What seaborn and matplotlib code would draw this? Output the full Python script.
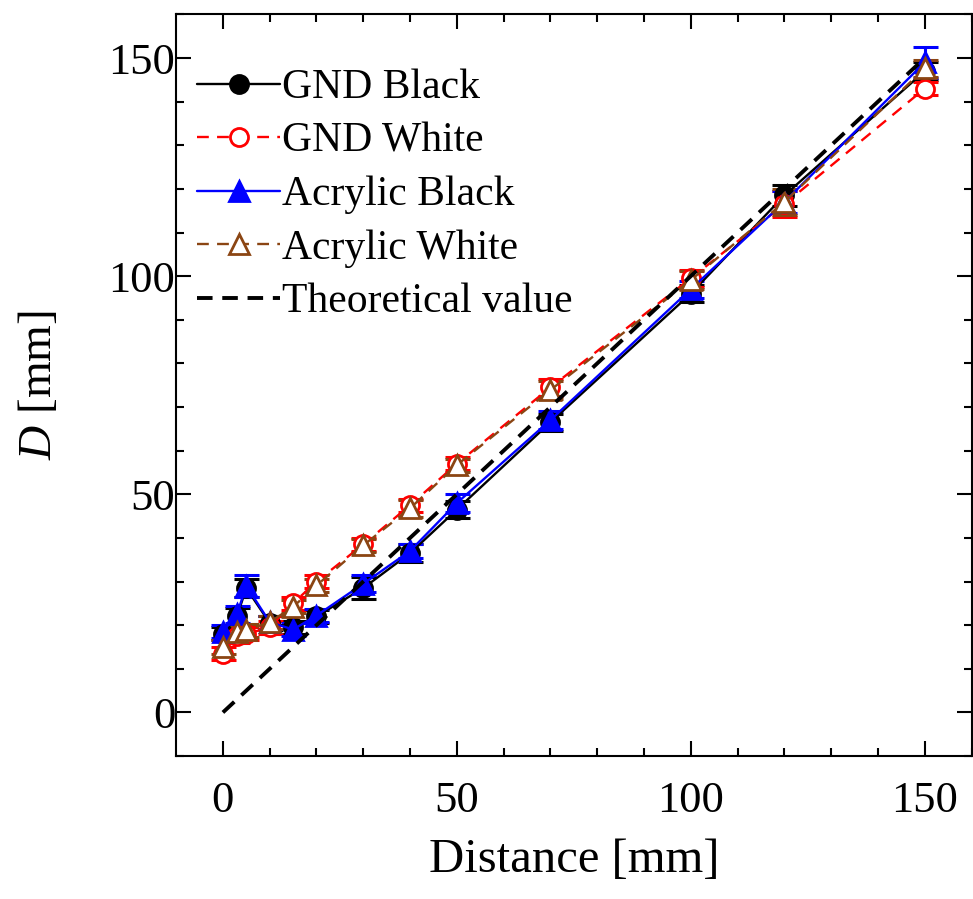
import numpy as np
import pandas as pd
import matplotlib
matplotlib.use("Agg")
import matplotlib.pyplot as plt
import seaborn as sns

# ---- data ----
distance = [0, 3, 5, 10, 15, 20, 30, 40, 50, 70, 100, 120, 150]

gnd_black = [18.0, 22.0, 28.5, 20.5, 19.5, 22.0, 28.5, 36.5, 46.5, 66.5, 96.0, 118.5, 147.0]
gnd_black_err = [1.5, 2.0, 2.0, 1.5, 1.5, 1.5, 2.5, 2.0, 2.0, 2.0, 2.0, 2.5, 2.0]

gnd_white = [13.5, 17.5, 18.0, 19.5, 25.0, 30.0, 38.5, 47.5, 57.0, 74.5, 99.5, 116.5, 143.0]
gnd_white_err = [1.5, 1.5, 1.5, 1.5, 1.5, 1.5, 1.5, 1.5, 1.5, 2.0, 2.0, 3.0, 1.5]

acr_black = [18.5, 22.5, 29.0, 20.7, 19.0, 22.2, 29.5, 37.0, 48.0, 67.0, 97.0, 117.0, 149.0]
acr_black_err = [1.5, 2.0, 2.5, 1.5, 1.5, 1.5, 2.0, 1.5, 2.0, 2.0, 2.0, 2.5, 3.5]

acr_white = [15.0, 18.4, 18.8, 20.7, 24.2, 29.1, 38.3, 46.8, 56.7, 73.9, 99.1, 117.0, 147.6]
acr_white_err = [1.5, 1.5, 1.5, 1.5, 1.5, 1.5, 1.5, 2.0, 1.5, 2.0, 2.0, 3.0, 2.0]

theory_x = [0, 150]
theory_y = [0, 150]

labels = ["GND Black", "GND White", "Acrylic Black", "Acrylic White", "Theoretical value"]

# ---- style ----
sns.set_style("ticks")
plt.rcParams["font.family"] = ["Liberation Serif", "DejaVu Serif"]
plt.rcParams["mathtext.fontset"] = "custom"
plt.rcParams["mathtext.rm"] = "Liberation Serif"
plt.rcParams["mathtext.it"] = "Liberation Serif:italic"
for k in ["text.color", "axes.labelcolor", "xtick.color", "ytick.color",
          "axes.edgecolor", "xtick.labelcolor", "ytick.labelcolor"]:
    plt.rcParams[k] = "black"

fig = plt.figure(figsize=(9.73, 8.99), dpi=100)
ax = fig.add_axes([0.181, 0.159, 0.8175, 0.825])

BROWN = "#8B4513"
DASH = (0, (5, 3.5))
series = [
    (gnd_black, gnd_black_err, dict(color="black", linestyle="-", marker="o",
                                    markerfacecolor="black", markeredgecolor="black", markersize=13)),
    (gnd_white, gnd_white_err, dict(color="red", linestyle=DASH, marker="o",
                                    markerfacecolor="white", markeredgecolor="red", markersize=13)),
    (acr_black, acr_black_err, dict(color="blue", linestyle="-", marker="^",
                                    markerfacecolor="blue", markeredgecolor="blue", markersize=15)),
    (acr_white, acr_white_err, dict(color=BROWN, linestyle=DASH, marker="^",
                                    markerfacecolor="white", markeredgecolor=BROWN, markersize=15)),
]

for (vals, errs, kw), lab in zip(series, labels[:4]):
    ax.errorbar(distance, vals, yerr=errs, fmt="none", ecolor=kw["color"],
                elinewidth=2.2, capsize=9, capthick=2.2, zorder=2)
    df = pd.DataFrame({"x": distance, "y": vals})
    sns.lineplot(data=df, x="x", y="y", ax=ax, label=lab, linewidth=1.7,
                 markeredgewidth=2.0, zorder=3, **kw)

dft = pd.DataFrame({"x": theory_x, "y": theory_y})
sns.lineplot(data=dft, x="x", y="y", ax=ax, color="black", linewidth=2.8,
             dashes=False, label=labels[4], zorder=4)
ax.lines[-1].set_dashes([4, 2.5])

ax.set_xlim(-10, 160)
ax.set_ylim(-10, 160)
ax.set_xticks([0, 50, 100, 150])
ax.set_yticks([0, 50, 100, 150])
ax.set_xticks(np.arange(0, 161, 10), minor=True)
ax.set_yticks(np.arange(-10, 161, 10), minor=True)
ax.tick_params(which="both", direction="in", top=True, right=True, width=1.5, color="black")
ax.tick_params(which="major", length=11, labelsize=32)
ax.tick_params(which="minor", length=5.5)
ax.tick_params(axis="x", pad=18)
ax.tick_params(axis="y", pad=0.5)
for s in ax.spines.values():
    s.set_linewidth(1.5)
    s.set_color("black")

ax.set_xlabel("Distance [mm]", fontsize=35, labelpad=12)
ax.set_ylabel(r"$\mathit{D}$ [mm]", fontsize=34, labelpad=34)

leg = ax.legend(loc="upper left", bbox_to_anchor=(0.0, 0.955), frameon=False,
                fontsize=30, handlelength=2.0, handletextpad=0.05,
                labelspacing=0.36, borderaxespad=0.3, borderpad=0.2)

fig.savefig("out.png", dpi=100)
